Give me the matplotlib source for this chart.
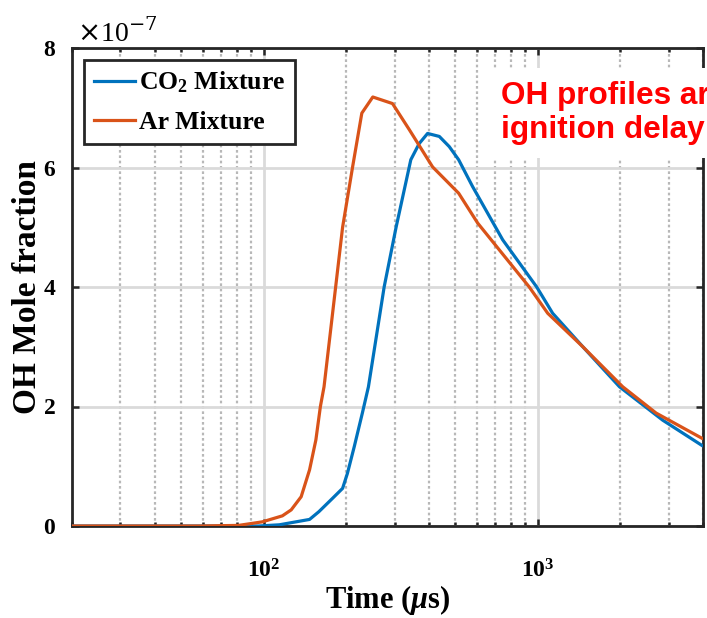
import matplotlib
matplotlib.use("Agg")
import matplotlib.pyplot as plt
from matplotlib.ticker import FixedLocator, FuncFormatter, LogLocator, NullFormatter

plt.rcParams['font.family'] = ['Liberation Serif', 'DejaVu Serif']
plt.rcParams['mathtext.fontset'] = 'custom'
plt.rcParams['mathtext.rm'] = 'Liberation Serif:bold'
plt.rcParams['mathtext.bf'] = 'Liberation Serif:bold'
plt.rcParams['mathtext.it'] = 'Liberation Serif:italic:bold'

# ---- data (time in microseconds, OH mole fraction) ----
t_co2 = [20, 60, 96, 114, 147, 159, 178, 194, 202, 214, 229, 241, 275, 304, 344,
         369, 396, 437, 475, 514, 578, 744, 990, 1132, 1458, 1984, 2854, 3960]
oh_co2 = [0, 0, 0, 0.02e-7, 0.11e-7, 0.24e-7, 0.46e-7, 0.63e-7, 0.88e-7, 1.33e-7,
          1.89e-7, 2.33e-7, 4.0e-7, 5.0e-7, 6.13e-7, 6.4e-7, 6.57e-7, 6.52e-7,
          6.35e-7, 6.13e-7, 5.68e-7, 4.79e-7, 4.0e-7, 3.56e-7, 3.0e-7, 2.33e-7,
          1.77e-7, 1.35e-7]

t_ar = [20, 58, 81, 99, 117, 126, 137, 147, 155, 161, 166, 183, 194, 211, 228,
        250, 295, 340, 413, 514, 603, 930, 1086, 1458, 2039, 2698, 3960]
oh_ar = [0, 0, 0.01e-7, 0.07e-7, 0.17e-7, 0.27e-7, 0.49e-7, 0.94e-7, 1.44e-7,
         2.0e-7, 2.33e-7, 4.0e-7, 5.0e-7, 6.01e-7, 6.91e-7, 7.18e-7, 7.07e-7,
         6.63e-7, 6.01e-7, 5.57e-7, 5.07e-7, 4.0e-7, 3.56e-7, 3.0e-7, 2.33e-7,
         1.89e-7, 1.47e-7]

series_labels = [r'CO$_{\mathbf{2}}$ Mixture', 'Ar Mixture']
series_colors = ['#0072BD', '#D95319']
y_ticks = [0, 2e-7, 4e-7, 6e-7, 8e-7]
x_limits = (20, 4000)
y_limits = (0, 8e-7)
annotation = 'OH profiles are\nignition delay'

W, H = 707, 618
fig = plt.figure(figsize=(W / 100, H / 100), dpi=100)
ax = fig.add_axes([72 / W, (H - 526) / H, 631 / W, 478 / H])

ax.plot(t_co2, oh_co2, color=series_colors[0], lw=2.3, label=series_labels[0], zorder=3)
ax.plot(t_ar, oh_ar, color=series_colors[1], lw=2.3, label=series_labels[1], zorder=3)

ax.set_xscale('log')
ax.set_xlim(*x_limits)
ax.set_ylim(*y_limits)
ax.yaxis.set_major_locator(FixedLocator(y_ticks))
ax.yaxis.set_major_formatter(FuncFormatter(lambda v, p: f'{v / 1e-7:.0f}'))
ax.xaxis.set_major_locator(LogLocator(base=10))
ax.xaxis.set_minor_locator(LogLocator(base=10, subs=range(2, 10)))
ax.xaxis.set_minor_formatter(NullFormatter())

ax.grid(True, which='major', color='#dadada', lw=2.0, zorder=0)
ax.grid(True, which='minor', axis='x', color='#b8b8b8', lw=1.6,
        linestyle=(0, (1.2, 1.2)), zorder=0)
ax.set_axisbelow(True)

for s in ax.spines.values():
    s.set_linewidth(2.0)
    s.set_color('#262626')
ax.tick_params(which='both', direction='in', top=True, right=True,
               width=1.8, color='#262626')
ax.tick_params(which='major', length=5, labelsize=17)
ax.tick_params(axis='y', which='major', pad=12)
ax.tick_params(axis='x', which='major', pad=24)
ax.tick_params(which='minor', length=3)
for lab in ax.get_xticklabels() + ax.get_yticklabels():
    lab.set_fontweight('bold')

ax.set_xlabel(r'Time ($\mu$s)', fontsize=22, fontweight='bold', labelpad=0)
ax.set_ylabel('OH Mole fraction', fontsize=24, fontweight='bold', labelpad=0)

fig.text(77 / W, (H - 42) / H, r'$\times$10$^{-7}$', fontsize=20,
         family='Liberation Serif', ha='left', va='baseline',
         math_fontfamily='dejavuserif')

leg = ax.legend(loc='upper left', bbox_to_anchor=(12 / 631, 1 - 12 / 478),
                borderaxespad=0, fancybox=False, framealpha=1,
                edgecolor='#262626', prop={'family': 'Liberation Serif',
                                            'weight': 'bold', 'size': 18.5},
                handlelength=1.6, handletextpad=0.15, borderpad=0.38,
                labelspacing=0.6)
leg.get_frame().set_linewidth(2.0)

# baseline of the last line sits at y = 138 px from the top
fig.text(501 / W, (H - 138) / H, annotation, fontsize=22.7, fontweight='bold',
         color='#ff0000', family='Liberation Sans', ha='left', va='baseline',
         linespacing=1.17,
         bbox=dict(facecolor='white', edgecolor='none', pad=9))

fig.savefig('out.png', dpi=100)
